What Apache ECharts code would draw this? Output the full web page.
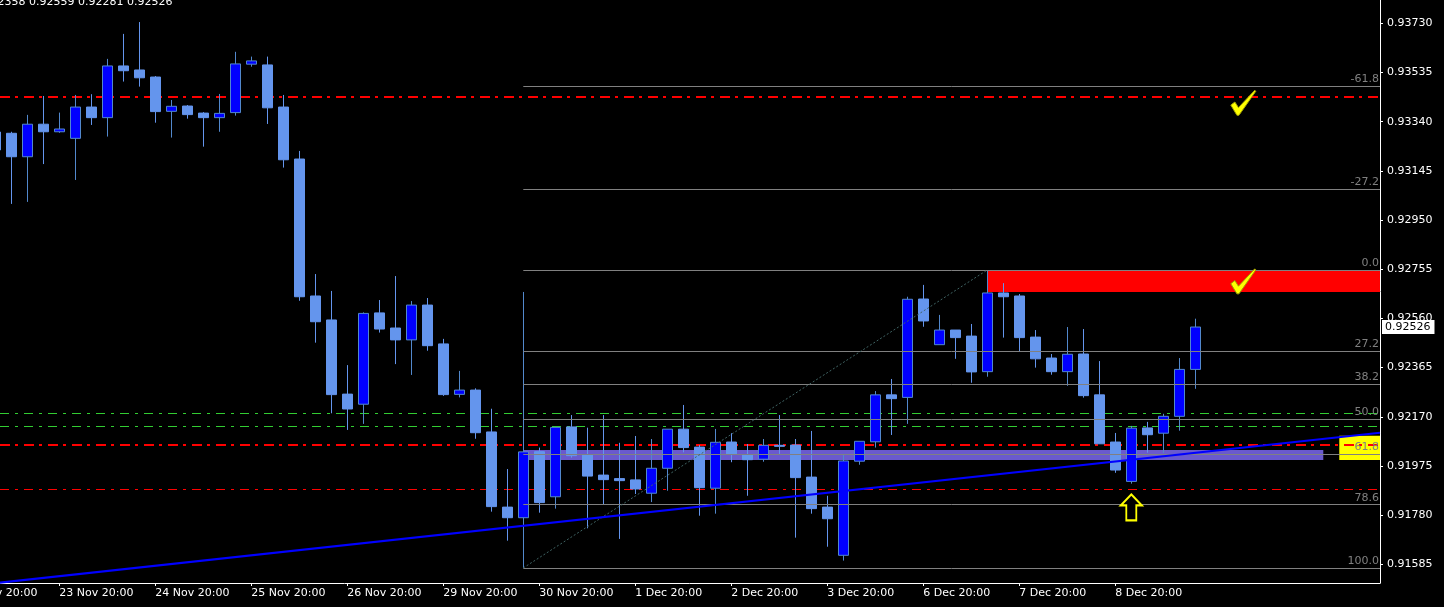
<!DOCTYPE html>
<html><head><meta charset="utf-8">
<script src="https://cdn.jsdelivr.net/npm/echarts@6/dist/echarts.min.js"></script>
<style>html,body{margin:0;padding:0;background:#000;}#c{width:1444px;height:607px;}</style>
</head><body><div id="c"></div>
<script>
// ---- data (H4 bars; bar index 0 = 23 Nov 08:00) ----
const firstBarIndex = -1;
const opens = [0.93299,0.93294,0.93201,0.93330,0.93300,0.93274,0.93398,0.93356,0.93561,0.93545,
0.93517,0.93381,0.93402,0.93374,0.93356,0.93376,0.93568,0.93565,0.93398,0.93192,
0.92649,0.92554,0.92260,0.92220,0.92582,0.92522,0.92475,0.92613,0.92459,0.92259,
0.92276,0.92110,0.91812,0.91770,0.92032,0.91853,0.92130,0.92019,0.91939,0.91925,
0.91920,0.91867,0.91966,0.92121,0.92050,0.91887,0.92070,0.92020,0.92002,0.92057,
0.92058,0.91931,0.91812,0.91621,0.91994,0.92071,0.92257,0.92247,0.92637,0.92456,
0.92514,0.92490,0.92349,0.92661,0.92649,0.92486,0.92403,0.92349,0.92419,0.92257,
0.92070,0.91914,0.92126,0.92105,0.92172,0.92358];
const closes = [0.93228,0.93201,0.93330,0.93300,0.93311,0.93398,0.93356,0.93561,0.93542,0.93514,
0.93380,0.93401,0.93368,0.93356,0.93373,0.93569,0.93581,0.93395,0.93189,0.92646,
0.92547,0.92258,0.92201,0.92580,0.92518,0.92475,0.92613,0.92452,0.92258,0.92276,
0.92107,0.91814,0.91770,0.92031,0.91830,0.92128,0.92016,0.91935,0.91921,0.91917,
0.91884,0.91966,0.92121,0.92048,0.91889,0.92069,0.92023,0.92000,0.92057,0.92053,
0.91929,0.91806,0.91766,0.91995,0.92073,0.92257,0.92242,0.92636,0.92550,0.92514,
0.92484,0.92348,0.92661,0.92646,0.92484,0.92400,0.92349,0.92418,0.92254,0.92063,
0.91959,0.92125,0.92099,0.92172,0.92358,0.92526];
const highs = [0.93315,0.93300,0.93367,0.93442,0.93376,0.93446,0.93449,0.93589,0.93688,0.93735,
0.93521,0.93426,0.93406,0.93378,0.93450,0.93617,0.93598,0.93598,0.93446,0.93224,
0.92736,0.92669,0.92375,0.92584,0.92633,0.92728,0.92629,0.92641,0.92479,0.92352,
0.92283,0.92202,0.91963,0.92665,0.92048,0.92128,0.92177,0.92127,0.92177,0.92067,
0.92094,0.92082,0.92121,0.92217,0.92058,0.92122,0.92105,0.92062,0.92082,0.92177,
0.92082,0.92114,0.91857,0.92019,0.92073,0.92272,0.92320,0.92646,0.92693,0.92574,
0.92514,0.92538,0.92752,0.92700,0.92657,0.92514,0.92419,0.92526,0.92518,0.92391,
0.92106,0.92134,0.92150,0.92182,0.92403,0.92559];
const lows = [0.93188,0.93014,0.93022,0.93172,0.93296,0.93109,0.93327,0.93281,0.93499,0.93479,
0.93336,0.93277,0.93352,0.93241,0.93300,0.93364,0.93558,0.93331,0.93158,0.92630,
0.92464,0.92184,0.92118,0.92142,0.92504,0.92379,0.92336,0.92432,0.92253,0.92247,
0.92083,0.91794,0.91679,0.91571,0.91790,0.91806,0.92008,0.91728,0.91824,0.91686,
0.91864,0.91832,0.91877,0.92029,0.91778,0.91786,0.91990,0.91857,0.91992,0.92023,
0.91691,0.91786,0.91655,0.91600,0.91980,0.92048,0.92098,0.92142,0.92527,0.92456,
0.92400,0.92305,0.92329,0.92484,0.92431,0.92365,0.92337,0.92293,0.92246,0.92063,
0.91948,0.91905,0.92028,0.92027,0.92115,0.92281];

const timeTickBars = [-3,3,9,15,21,27,33,39,45,51,57,63,69];
const timeTickLabels = ['22 Nov 20:00','23 Nov 20:00','24 Nov 20:00','25 Nov 20:00','26 Nov 20:00',
  '29 Nov 20:00','30 Nov 20:00','1 Dec 20:00','2 Dec 20:00','3 Dec 20:00','6 Dec 20:00','7 Dec 20:00','8 Dec 20:00'];
const priceTicks = [0.91585,0.91780,0.91975,0.92170,0.92365,0.92560,0.92755,0.92950,0.93145,0.93340,0.93535,0.93730];
const headerText = '0.92358 0.92559 0.92281 0.92526';
const lastPrice = 0.92526;

// chart objects
const redLines = [0.93440, 0.92061];
const redThinLines = [0.91883];
const greenLines = [0.92184, 0.92132];
const fibStartBar = 32, fibEndBar = 61;
const fib0 = 0.92752, fib100 = 0.91571;
const fibLevels = [-61.8, -27.2, 0, 27.2, 38.2, 50, 61.8, 78.6, 100];
const trendPoints = [[-3.706, 0.91492], [85.544, 0.92107]];
const purpleZone = [[32, 0.92038], [82, 0.91999]];
const yellowZone = [[83, 0.92095], [85.544, 0.91999]];
const redZone = [[61, 0.92752], [85.544, 0.92665]];
const checkMarks = [[77, 0.93415], [77, 0.92707]];
const upArrow = [70, 0.91811];

const X_MIN = -3.706, X_MAX = 85.544, Y_MIN = 0.915112, Y_MAX = 0.938224;
const FONT = 'DejaVu Sans';

const candles = opens.map((o, i) => [i + firstBarIndex, o, closes[i], lows[i], highs[i]]);
const labelByBar = {};
timeTickBars.forEach((b, i) => labelByBar[b] = timeTickLabels[i]);

const dashDot = [9, 6, 3, 6];
const hLines = [];
redLines.forEach(v => hLines.push({yAxis: v, lineStyle: {color: '#ff0000', width: 2, type: [10, 5, 3, 6]}}));
redThinLines.forEach(v => hLines.push({yAxis: v, lineStyle: {color: '#ff0000', width: 1, type: dashDot}}));
greenLines.forEach(v => hLines.push({yAxis: v, lineStyle: {color: '#32cd32', width: 1, type: dashDot}}));

const fibData = fibLevels.map(r => {
  const v = fib0 - r / 100 * (fib0 - fib100);
  return [{name: r.toFixed(1), coord: [fibStartBar, v]}, {coord: [X_MAX, v]}];
});
fibData.push([{name: '', coord: [fibStartBar, fib100], lineStyle: {color: '#3f6363', type: [2, 2], width: 1}, label: {show: false}},
              {coord: [fibEndBar, fib0]}]);

const checkPath = 'path://M1,15 L5,12 L8.5,17.5 L24.5,0.5 L25.5,1.5 L9,25 L7,25 Z';
const arrowPath = 'path://M10.5,0 L21,11 L15.5,11 L15.5,26 L5.5,26 L5.5,11 L0,11 Z';

const chart = echarts.init(document.getElementById('c'), null, {renderer: 'canvas'});
chart.setOption({
  animation: false,
  backgroundColor: '#000',
  title: {text: headerText, left: -20, top: -3, padding: 0,
    textStyle: {color: '#ffffff', fontSize: 11, fontWeight: 'normal', fontFamily: FONT, lineHeight: 11}},
  grid: {left: -48, right: 64, top: 0, bottom: 24, containLabel: false, outerBoundsMode: 'none'},
  xAxis: {
    type: 'value', min: X_MIN, max: X_MAX,
    axisLine: {onZero: false, lineStyle: {color: '#ffffff', width: 1}},
    axisTick: {show: true, customValues: timeTickBars, length: 3, lineStyle: {color: '#ffffff'}},
    axisLabel: {customValues: timeTickBars, formatter: v => labelByBar[Math.round(v)] || '',
      color: '#ffffff', fontFamily: FONT, fontSize: 11, align: 'left', margin: 5},
    splitLine: {show: false}
  },
  yAxis: {
    type: 'value', position: 'right', min: Y_MIN, max: Y_MAX,
    axisLine: {show: true, onZero: false, lineStyle: {color: '#ffffff', width: 1}},
    axisTick: {show: true, customValues: priceTicks, length: 3, lineStyle: {color: '#ffffff'}},
    axisLabel: {customValues: priceTicks, formatter: v => v.toFixed(5),
      color: '#ffffff', fontFamily: FONT, fontSize: 11, margin: 7},
    splitLine: {show: false}
  },
  series: [
    {
      type: 'candlestick', data: candles, barWidth: 10, z: 2,
      itemStyle: {color: '#0000ff', color0: '#6495ed', borderColor: '#5288cc', borderColor0: '#6495ed', borderWidth: 1},
      markArea: {silent: true, z: 1, data: [
        [{coord: purpleZone[0], itemStyle: {color: '#6a5acd'}}, {coord: purpleZone[1]}],
        [{coord: yellowZone[0], itemStyle: {color: '#ffff00'}}, {coord: yellowZone[1]}],
        [{coord: redZone[0], itemStyle: {color: '#ff0000'}}, {coord: redZone[1]}]
      ]},
      markLine: {silent: true, symbol: 'none', z: 3, precision: 5,
        lineStyle: {color: '#808080', width: 1, type: 'solid'},
        label: {show: true, position: 'insideEndTop', formatter: '{b}', color: '#808080',
          fontFamily: FONT, fontSize: 11, distance: [1, 1]},
        data: fibData},
      markPoint: {silent: true, z: 6, label: {show: false}, data: [
        {coord: checkMarks[0], symbol: checkPath, symbolSize: [25, 25], itemStyle: {color: '#ffff00', borderColor: '#a0a000', borderWidth: 1}},
        {coord: checkMarks[1], symbol: checkPath, symbolSize: [25, 25], itemStyle: {color: '#ffff00', borderColor: '#a0a000', borderWidth: 1}},
        {coord: upArrow, symbol: arrowPath, symbolSize: [21, 26], itemStyle: {color: '#000000', borderColor: '#ffff00', borderWidth: 2}}
      ]}
    },
    {
      type: 'line', data: trendPoints, z: 4, symbol: 'none', silent: true,
      lineStyle: {color: '#0000ff', width: 2},
      markLine: {silent: true, symbol: 'none', z: 1, precision: 5, label: {show: false}, data: hLines}
    },
    {
      type: 'line', data: [[X_MAX, lastPrice]], z: 8, symbol: 'none', silent: true,
      lineStyle: {width: 0},
      markLine: {silent: true, symbol: 'none', z: 8, precision: 5,
        lineStyle: {color: 'rgba(0,0,0,0)', width: 1, type: 'solid'},
        label: {show: true, position: 'end', formatter: lastPrice.toFixed(5), color: '#000000',
          backgroundColor: '#ffffff', padding: [2, 4, 1, 3], distance: 2, fontFamily: FONT, fontSize: 11},
        data: [{yAxis: lastPrice}]}
    }
  ]
});
</script>
</body></html>
